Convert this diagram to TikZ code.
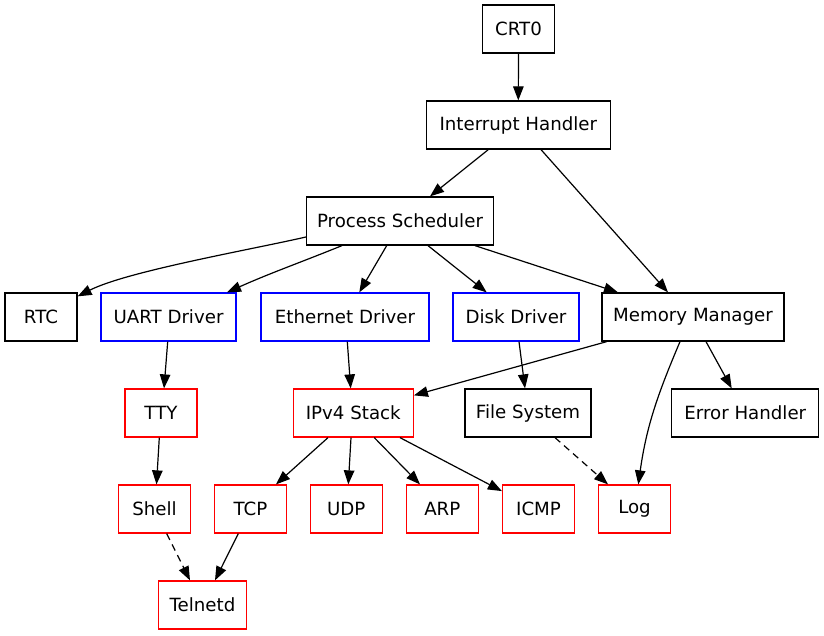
\documentclass[tikz,border=0pt]{standalone}
\usepackage{fontspec}
\setmainfont{DejaVu Sans}
\usetikzlibrary{arrows.meta}
\definecolor{gvblue}{RGB}{0,0,255}
\definecolor{gvred}{RGB}{255,0,0}
\tikzset{
  box/.style={draw=black, line width=1.25pt, minimum height=48pt, inner sep=0pt,
    font=\fontsize{18.2}{21}\selectfont, fill=white},
  bluebox/.style={box, draw=gvblue},
  redbox/.style={box, draw=gvred},
  edge/.style={line width=1.2pt, -{Triangle[length=14pt,width=10.5pt]}},
  dashedge/.style={edge, dash pattern=on 7pt off 5pt},
}
\begin{document}
\begin{tikzpicture}[x=1pt,y=-1pt]
\useasboundingbox (0,0) rectangle (824,635);
% nodes
\node[box, minimum width=72pt]  (crt)  at (518.5,29) {CRT0};
\node[box, minimum width=184pt] (ih)   at (518.3,125) {Interrupt Handler};
\node[box, minimum width=187pt] (ps)   at (400,221) {Process Scheduler};
\node[box, minimum width=72pt]  (rtc)  at (41,317) {RTC};
\node[bluebox, minimum width=135pt] (uart) at (168.5,317) {UART Driver};
\node[bluebox, minimum width=168pt] (eth)  at (345,317) {Ethernet Driver};
\node[bluebox, minimum width=126pt] (disk) at (516,317) {Disk Driver};
\node[box, minimum width=182pt] (mm)   at (693,317) {Memory Manager};
\node[redbox, minimum width=72pt]  (tty)  at (161,413) {TTY};
\node[redbox, minimum width=120pt] (ipv4) at (353.3,413) {IPv4 Stack};
\node[box, minimum width=126pt] (fs)   at (528,413) {File System};
\node[box, minimum width=147pt] (eh)   at (745.3,413) {Error Handler};
\node[redbox, minimum width=72pt] (shell) at (154.5,509) {Shell};
\node[redbox, minimum width=72pt] (tcp)   at (250.5,509) {TCP};
\node[redbox, minimum width=72pt] (udp)   at (346.3,509) {UDP};
\node[redbox, minimum width=72pt] (arp)   at (442.3,509) {ARP};
\node[redbox, minimum width=72pt] (icmp)  at (538.5,509) {ICMP};
\node[redbox, minimum width=72pt] (log)   at (634.5,509) {Log};
\node[redbox, minimum width=88pt] (telnetd) at (202.5,605) {Telnetd};
% edges
\draw[edge] (crt.south) -- (ih.north);
\draw[edge] ([xshift=-30pt]ih.south) -- ([xshift=30pt]ps.north);
\draw[edge] ([xshift=22.7pt]ih.south) -- ([xshift=-25pt]mm.north);
\draw[edge] ([yshift=-16pt]ps.west) to[out=193,in=27,looseness=0.6] ([yshift=-4pt]rtc.north east);
\draw[edge] ([xshift=-58pt]ps.south) to[out=202,in=24] ([xshift=58.5pt]uart.north);
\draw[edge] ([xshift=-13.3pt]ps.south) -- ([xshift=14.3pt]eth.north);
\draw[edge] ([xshift=28pt]ps.south) -- ([xshift=-29.3pt]disk.north);
\draw[edge] ([xshift=75pt]ps.south) -- ([xshift=-75pt]mm.north);
\draw[edge] ([xshift=-0.8pt]uart.south) -- ([xshift=3pt]tty.north);
\draw[edge] ([xshift=2.3pt]eth.south) -- ([xshift=-2.6pt]ipv4.north);
\draw[edge] ([xshift=3pt]disk.south) -- ([xshift=-3pt]fs.north);
\draw[edge] ([xshift=-86.3pt]mm.south) -- ([yshift=-7pt]ipv4.north east);
\draw[edge] ([xshift=-13pt]mm.south) to[out=247,in=82] ([xshift=3.8pt]log.north);
\draw[edge] ([xshift=13pt]mm.south) -- ([xshift=-13.6pt]eh.north);
\draw[edge] ([xshift=-1.7pt]tty.south) -- ([xshift=2pt]shell.north);
\draw[edge] ([xshift=-25.3pt]ipv4.south) -- ([xshift=25.5pt]tcp.north);
\draw[edge] ([xshift=-2.3pt]ipv4.south) -- ([xshift=2pt]udp.north);
\draw[edge] ([xshift=21pt]ipv4.south) -- ([xshift=-22.3pt]arp.north);
\draw[edge] ([xshift=46.7pt]ipv4.south) -- ([yshift=-6.7pt]icmp.north west);
\draw[dashedge] ([xshift=27pt]fs.south) -- ([xshift=-26.5pt]log.north);
\draw[dashedge] ([xshift=12.2pt]shell.south) -- ([xshift=-12.5pt]telnetd.north);
\draw[edge] ([xshift=-12.2pt]tcp.south) -- ([xshift=12.5pt]telnetd.north);
\end{tikzpicture}
\end{document}
